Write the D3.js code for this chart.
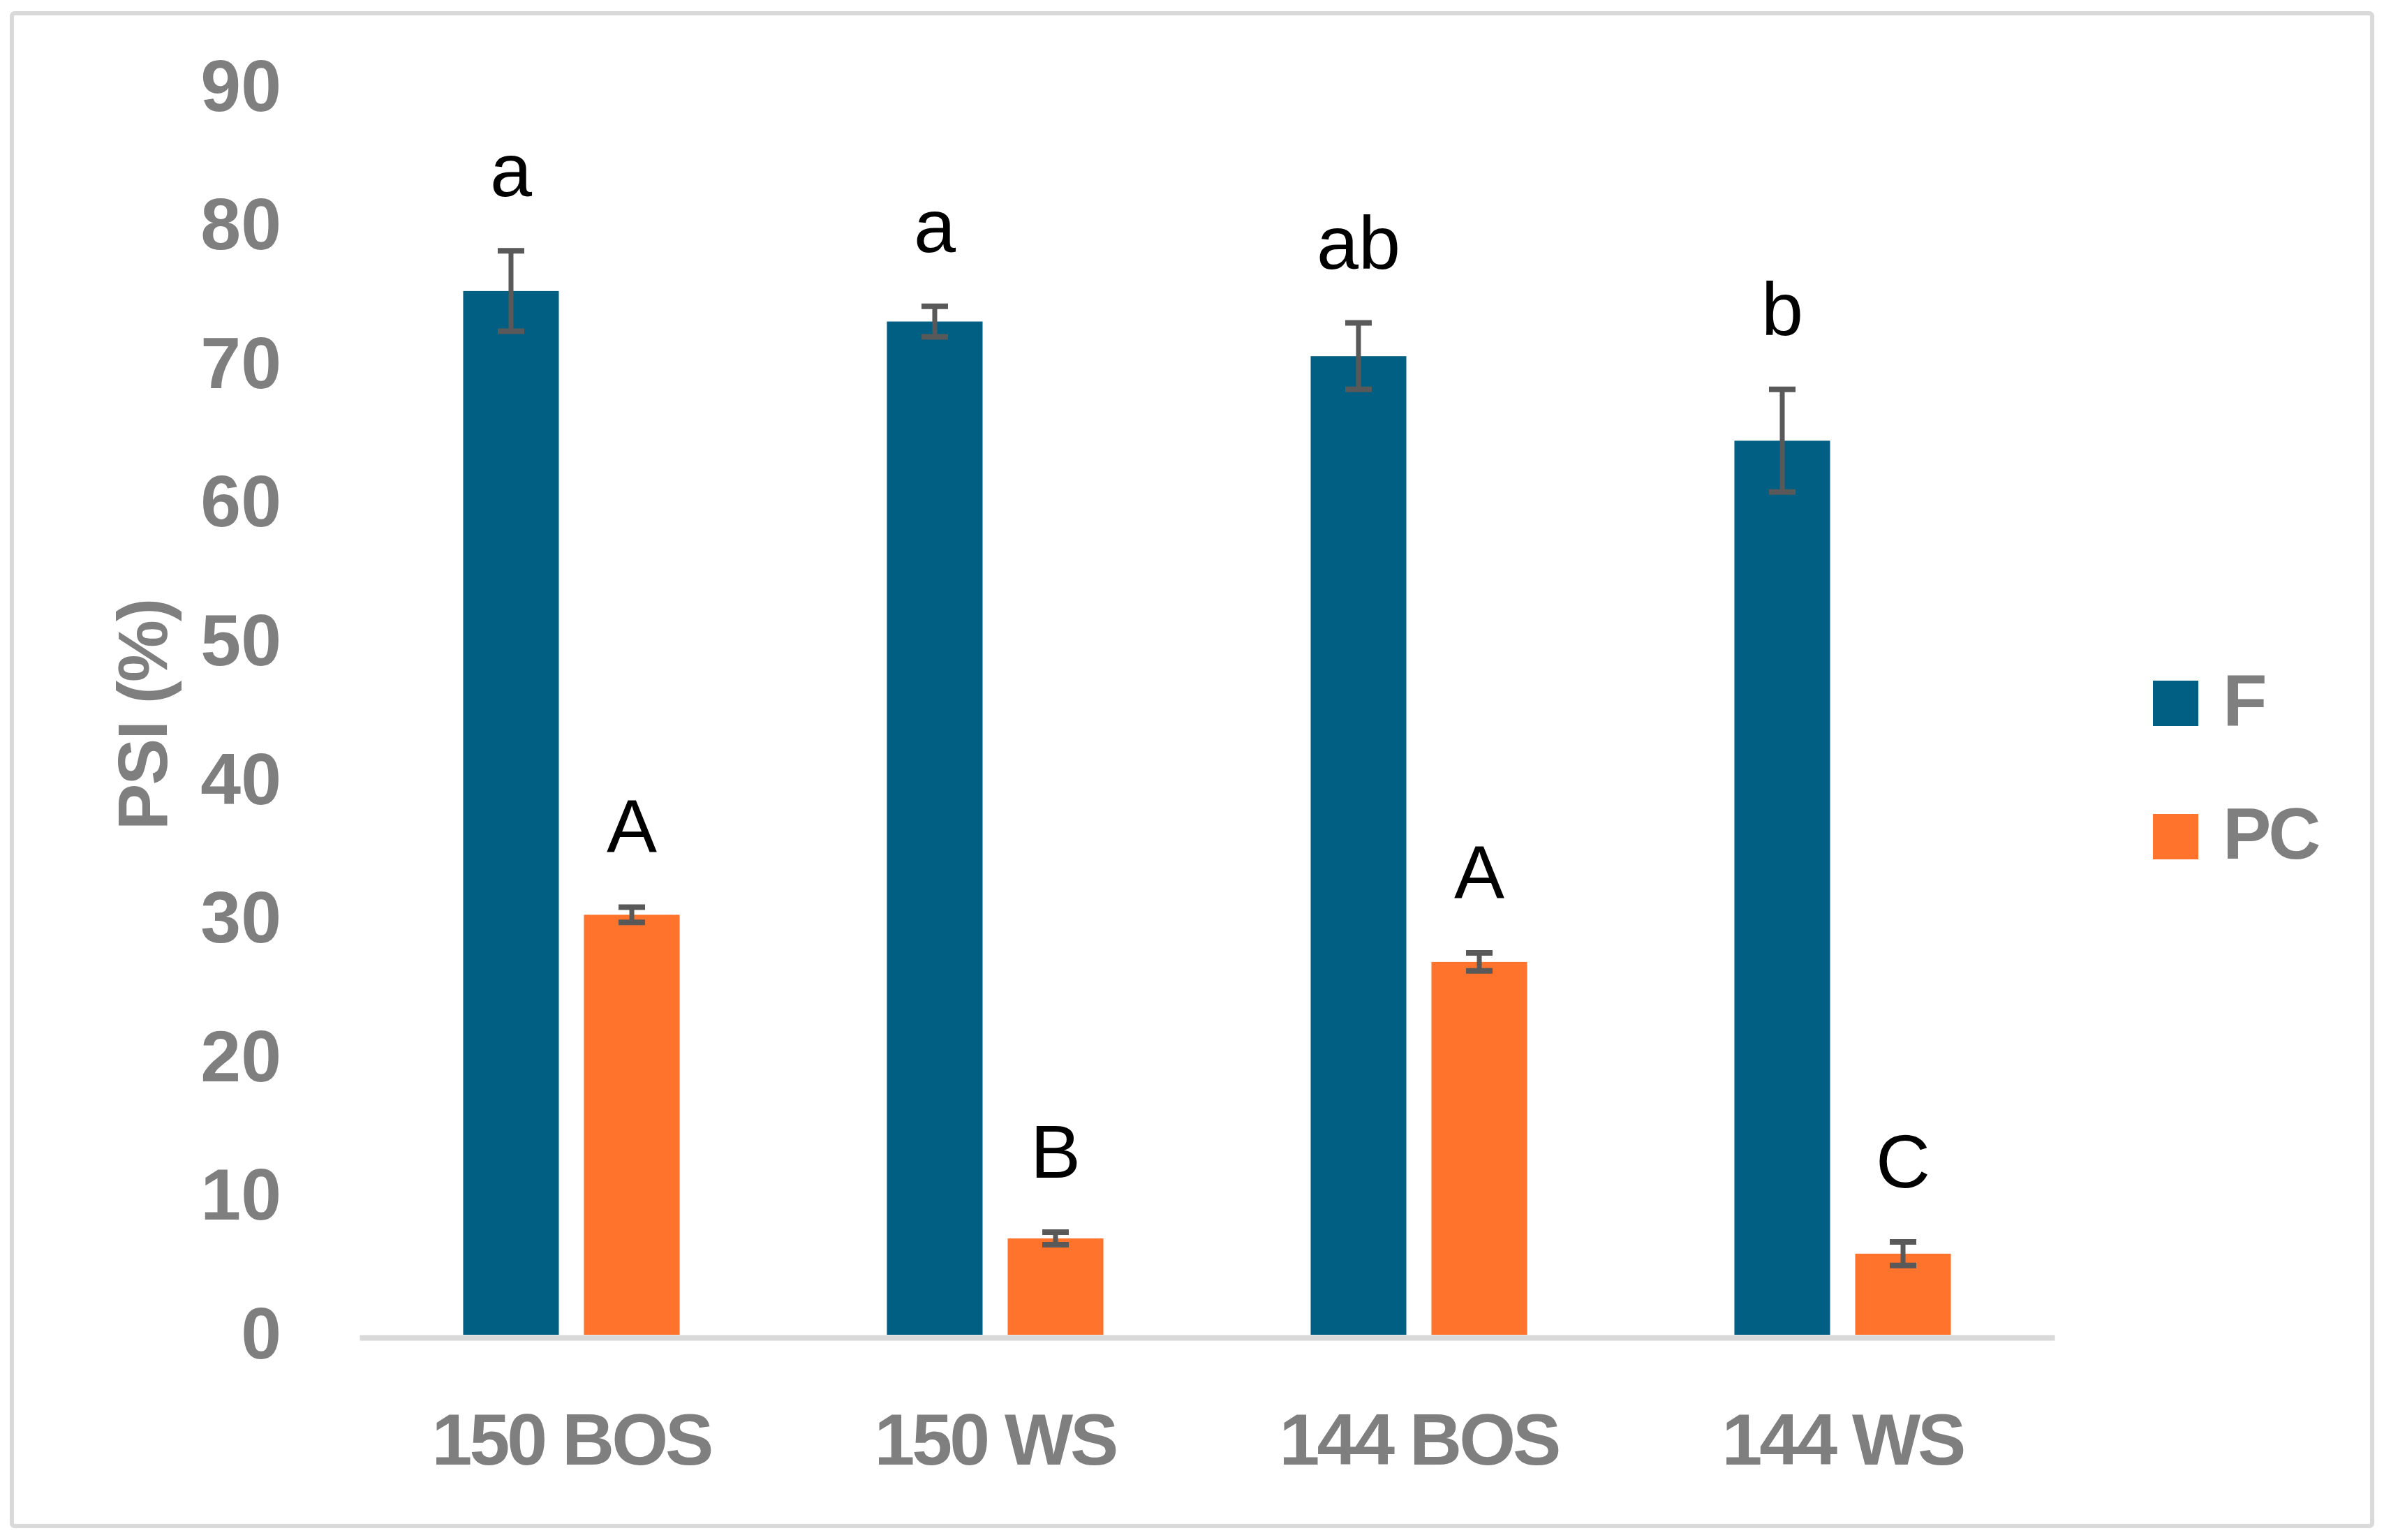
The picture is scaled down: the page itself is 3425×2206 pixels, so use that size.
<!DOCTYPE html>
<html>
<head>
<meta charset="utf-8">
<script src="https://cdn.jsdelivr.net/npm/d3@7"></script>
<style>
  html, body { margin: 0; padding: 0; background: #fff; }
  svg { display: block; }
</style>
</head>
<body>
<svg id="chart" width="3425" height="2206"></svg>
<script>
const categories = ["150 BOS", "150 WS", "144 BOS", "144 WS"];
const seriesNames = ["F", "PC"];
const fValues = [75.3, 73.1, 70.6, 64.5];
const fErrors = [2.9, 1.1, 2.4, 3.7];
const fLetters = ["a", "a", "ab", "b"];
const pcValues = [30.3, 6.95, 26.9, 5.85];
const pcErrors = [0.55, 0.45, 0.65, 0.85];
const pcLetters = ["A", "B", "A", "C"];
const yTicks = [0, 10, 20, 30, 40, 50, 60, 70, 80, 90];
const colors = {F: "#005f83", PC: "#ff732d"};

const svg = d3.select("#chart");
const grey = "#7f7f7f";
const font = "'Liberation Sans', Arial, sans-serif";

// frame
svg.append("rect")
    .attr("x", 17).attr("y", 19)
    .attr("width", 3381).attr("height", 2167)
    .attr("rx", 4)
    .attr("fill", "#fff")
    .attr("stroke", "#d9d9d9")
    .attr("stroke-width", 6);

const y = d3.scaleLinear().domain([0, 90]).range([1912, 125]);
const x0 = d3.scaleBand().domain(categories).range([515, 2943]).padding(0);
const x1 = d3.scaleBand().domain(seriesNames).range([0, x0.bandwidth()])
    .paddingInner(0.208).paddingOuter(0.858);

const rows = [];
categories.forEach((c, i) => {
    rows.push({cat: c, s: "F", v: fValues[i], e: fErrors[i], l: fLetters[i]});
    rows.push({cat: c, s: "PC", v: pcValues[i], e: pcErrors[i], l: pcLetters[i]});
});

// Y axis
const yAxis = d3.axisLeft(y).tickValues(yTicks).tickSize(0).tickPadding(112);
const yg = svg.append("g").attr("transform", "translate(515,0)").call(yAxis);
yg.select(".domain").remove();
yg.selectAll("text")
    .attr("fill", grey)
    .style("font-family", font)
    .style("font-weight", "bold")
    .style("font-size", "104px");

// Bars
svg.append("g").selectAll("rect")
    .data(rows)
    .enter()
    .append("rect")
    .attr("x", d => x0(d.cat) + x1(d.s))
    .attr("y", d => y(d.v))
    .attr("width", x1.bandwidth())
    .attr("height", d => y(0) - y(d.v))
    .attr("fill", d => colors[d.s]);

// X axis
const xAxis = d3.axisBottom(x0).tickSize(0).tickSizeOuter(0).tickPadding(108);
const xg = svg.append("g").attr("transform", "translate(0,1916)").call(xAxis);
xg.select(".domain").attr("stroke", "#d9d9d9").attr("stroke-width", 8);
xg.selectAll("text")
    .attr("fill", grey)
    .style("font-family", font)
    .style("font-weight", "bold")
    .style("font-size", "104px")
    .style("letter-spacing", "-4px");

// Error bars
const eg = svg.append("g").attr("stroke", "#595959");
const cx = d => x0(d.cat) + x1(d.s) + x1.bandwidth() / 2;
eg.selectAll("line.v")
    .data(rows).enter().append("line")
    .attr("class", "v")
    .attr("x1", cx).attr("x2", cx)
    .attr("y1", d => y(d.v + d.e)).attr("y2", d => y(d.v - d.e))
    .attr("stroke-width", 7);
[1, -1].forEach(sign => {
    eg.selectAll("line.c" + (sign > 0 ? "t" : "b"))
        .data(rows).enter().append("line")
        .attr("class", "c" + (sign > 0 ? "t" : "b"))
        .attr("x1", d => cx(d) - 19).attr("x2", d => cx(d) + 19)
        .attr("y1", d => y(d.v + sign * d.e)).attr("y2", d => y(d.v + sign * d.e))
        .attr("stroke-width", 8);
});

// Letters
svg.append("g").selectAll("text")
    .data(rows).enter().append("text")
    .attr("x", cx)
    .attr("y", d => y(d.v + d.e) - 78)
    .attr("text-anchor", "middle")
    .attr("fill", "#000")
    .style("font-family", font)
    .style("font-size", "108px")
    .text(d => d.l);

// Y title
svg.append("text")
    .attr("transform", "translate(204,1024) rotate(-90)")
    .attr("text-anchor", "middle")
    .attr("dominant-baseline", "central")
    .attr("fill", grey)
    .style("font-family", font)
    .style("font-weight", "bold")
    .style("font-size", "100px")
    .style("letter-spacing", "-2px")
    .text("PSI (%)");

// Legend
const legend = svg.append("g").selectAll("g")
    .data(seriesNames).enter().append("g")
    .attr("transform", (d, i) => `translate(3084,${975 + i * 191})`);
legend.append("rect")
    .attr("width", 65).attr("height", 65)
    .attr("fill", d => colors[d]);
legend.append("text")
    .attr("x", 100).attr("y", 64)
    .attr("fill", grey)
    .style("font-family", font)
    .style("font-weight", "bold")
    .style("font-size", "104px")
    .style("letter-spacing", "-4px")
    .text(d => d);
</script>
</body>
</html>
